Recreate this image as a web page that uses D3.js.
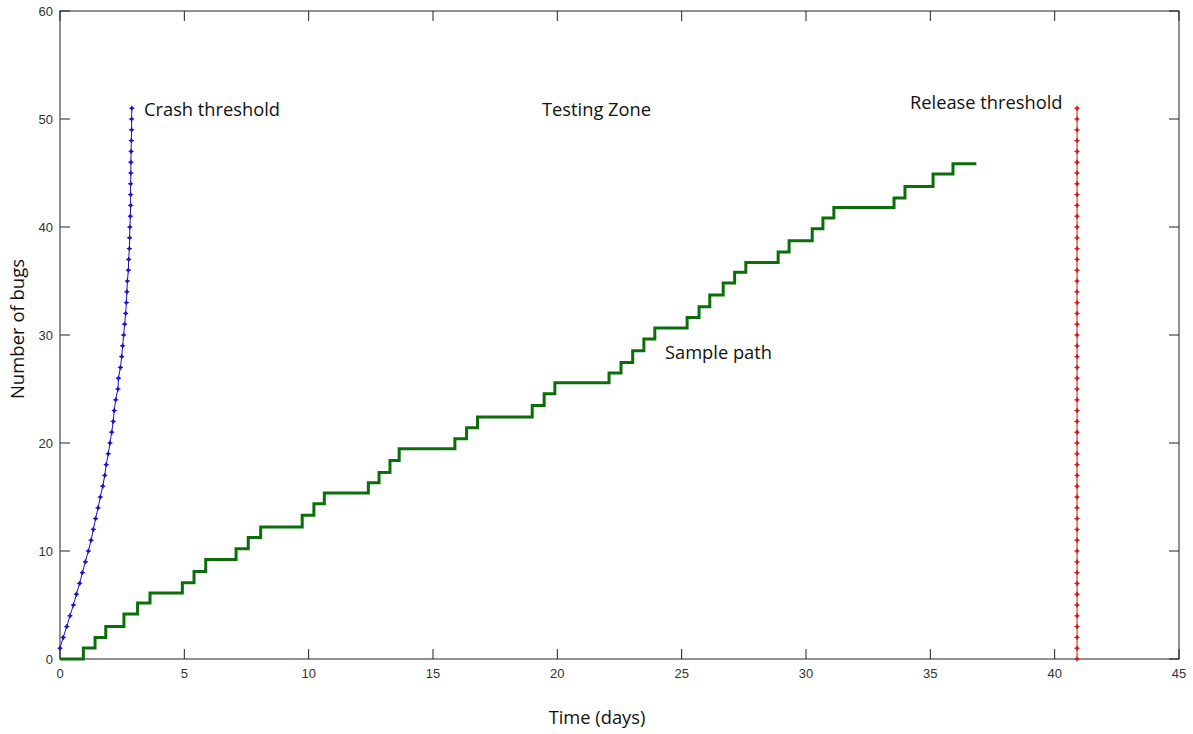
<!DOCTYPE html>
<html>
<head>
<meta charset="utf-8">
<script src="https://cdn.jsdelivr.net/npm/d3@7"></script>
<style>
  html, body { margin: 0; padding: 0; background: #fff; }
  svg { display: block; }
  .tick-label { font-family: "Liberation Sans", Arial, sans-serif; font-size: 13px; fill: #333; }
  .note { font-family: "Open Sans", Lato, sans-serif; font-size: 18.3px; fill: #111; }
</style>
</head>
<body>
<svg id="chart" width="1193" height="734"></svg>
<script>
// Crash threshold: cumulative bugs vs. time on the fast path
const crashTime = [0, 0.13, 0.27, 0.40, 0.54, 0.66, 0.79, 0.90, 1.02, 1.14,
  1.25, 1.34, 1.43, 1.53, 1.62, 1.72, 1.80, 1.86, 1.94, 2.01,
  2.08, 2.14, 2.18, 2.24, 2.33, 2.35, 2.43, 2.48, 2.52, 2.56,
  2.60, 2.64, 2.67, 2.69, 2.71, 2.75, 2.76, 2.79, 2.80, 2.81,
  2.83, 2.84, 2.84, 2.84, 2.85, 2.85, 2.86, 2.87, 2.88, 2.88, 2.89];
const crashBugs = [1, 2, 3, 4, 5, 6, 7, 8, 9, 10,
  11, 12, 13, 14, 15, 16, 17, 18, 19, 20,
  21, 22, 23, 24, 25, 26, 27, 28, 29, 30,
  31, 32, 33, 34, 35, 36, 37, 38, 39, 40,
  41, 42, 43, 44, 45, 46, 47, 48, 49, 50, 51];

// Release threshold: fixed release day
const releaseDay = 40.9;
const releaseBugs = [0, 1, 2, 3, 4, 5, 6, 7, 8, 9, 10,
  11, 12, 13, 14, 15, 16, 17, 18, 19, 20,
  21, 22, 23, 24, 25, 26, 27, 28, 29, 30,
  31, 32, 33, 34, 35, 36, 37, 38, 39, 40,
  41, 42, 43, 44, 45, 46, 47, 48, 49, 50, 51];

// Sample path: jump times and the bug count after each jump
const pathTime = [0, 0.94, 1.41, 1.84, 2.57, 3.12, 3.62, 4.92, 5.39, 5.86, 7.08,
  7.57, 8.07, 9.74, 10.21, 10.63, 12.40, 12.83, 13.27, 13.64, 15.88,
  16.35, 16.79, 18.99, 19.47, 19.90, 22.08, 22.56, 23.03, 23.48, 23.92,
  25.22, 25.70, 26.13, 26.67, 27.13, 27.58, 28.88, 29.32, 30.25, 30.68,
  31.12, 33.54, 33.98, 35.11, 35.91];
const pathBugs = [0, 1.02, 2.00, 3.02, 4.17, 5.19, 6.11, 7.06, 8.11, 9.22, 10.21,
  11.26, 12.22, 13.30, 14.38, 15.37, 16.32, 17.28, 18.39, 19.47, 20.40,
  21.42, 22.41, 23.48, 24.56, 25.58, 26.48, 27.46, 28.55, 29.63, 30.65,
  31.63, 32.62, 33.70, 34.81, 35.80, 36.72, 37.69, 38.73, 39.84, 40.83,
  41.81, 42.69, 43.76, 44.91, 45.86];
const pathEnd = 36.85;

const xTicks = [0, 5, 10, 15, 20, 25, 30, 35, 40, 45];
const yTicks = [0, 10, 20, 30, 40, 50, 60];

const svg = d3.select("#chart");
const margin = { left: 60, right: 14, top: 11, bottom: 75 };
const W = 1193, H = 734;
const x = d3.scaleLinear().domain([0, 45]).range([margin.left, W - margin.right]);
const y = d3.scaleLinear().domain([0, 60]).range([H - margin.bottom, margin.top]);
const tickLen = 10;

// plot box
svg.append("rect")
  .attr("x", x(0)).attr("y", y(60))
  .attr("width", x(45) - x(0)).attr("height", y(0) - y(60))
  .attr("fill", "none").attr("stroke", "#222").attr("stroke-width", 1);

// inward ticks on all four sides
const tg = svg.append("g").attr("stroke", "#222").attr("stroke-width", 1);
xTicks.forEach(t => {
  tg.append("line").attr("x1", x(t)).attr("x2", x(t)).attr("y1", y(0)).attr("y2", y(0) - tickLen);
  tg.append("line").attr("x1", x(t)).attr("x2", x(t)).attr("y1", y(60)).attr("y2", y(60) + tickLen);
});
yTicks.forEach(t => {
  tg.append("line").attr("x1", x(0)).attr("x2", x(0) + tickLen).attr("y1", y(t)).attr("y2", y(t));
  tg.append("line").attr("x1", x(45)).attr("x2", x(45) - tickLen).attr("y1", y(t)).attr("y2", y(t));
});

// tick labels
svg.append("g").selectAll("text").data(xTicks).join("text")
  .attr("class", "tick-label")
  .attr("x", d => x(d)).attr("y", y(0) + 19)
  .attr("text-anchor", "middle").text(d => d);
svg.append("g").selectAll("text").data(yTicks).join("text")
  .attr("class", "tick-label")
  .attr("x", x(0) - 7).attr("y", d => y(d) + 4.5)
  .attr("text-anchor", "end").text(d => d);

// sample path as a step function
const pathPts = pathTime.map((t, i) => [t, pathBugs[i]]);
pathPts.push([pathEnd, pathBugs[pathBugs.length - 1]]);
svg.append("path")
  .datum(pathPts)
  .attr("fill", "none").attr("stroke", "#0b6e0b").attr("stroke-width", 3)
  .attr("d", d3.line().x(d => x(d[0])).y(d => y(d[1])).curve(d3.curveStepAfter));

// helper: thin line with small star markers
function markedLine(pts, color) {
  svg.append("path").datum(pts)
    .attr("fill", "none").attr("stroke", color).attr("stroke-width", 1)
    .attr("d", d3.line().x(d => x(d[0])).y(d => y(d[1])));
  const g = svg.append("g").attr("stroke", color).attr("fill", color);
  pts.forEach(p => {
    const cx = x(p[0]), cy = y(p[1]);
    g.append("line").attr("x1", cx - 2.5).attr("x2", cx + 2.5).attr("y1", cy).attr("y2", cy).attr("stroke-width", 1.2);
    g.append("line").attr("x1", cx).attr("x2", cx).attr("y1", cy - 2.5).attr("y2", cy + 2.5).attr("stroke-width", 1.2);
    g.append("circle").attr("cx", cx).attr("cy", cy).attr("r", 1.6).attr("stroke", "none");
  });
}
markedLine(crashTime.map((t, i) => [t, crashBugs[i]]), "#1414c0");
markedLine(releaseBugs.map(b => [releaseDay, b]), "#e01010");

// annotations
svg.append("text").attr("class", "note").attr("x", 144).attr("y", 116).text("Crash threshold");
svg.append("text").attr("class", "note").attr("x", 542).attr("y", 116).text("Testing Zone");
svg.append("text").attr("class", "note").attr("x", 910).attr("y", 109).text("Release threshold");
svg.append("text").attr("class", "note").attr("x", 665).attr("y", 359).text("Sample path");

// axis titles
svg.append("text").attr("class", "note")
  .attr("x", 597).attr("y", 724).attr("text-anchor", "middle").text("Time (days)");
svg.append("text").attr("class", "note")
  .attr("transform", `translate(24,${329}) rotate(-90)`)
  .attr("text-anchor", "middle").style("font-size", "18.5px").text("Number of bugs");
</script>
</body>
</html>
